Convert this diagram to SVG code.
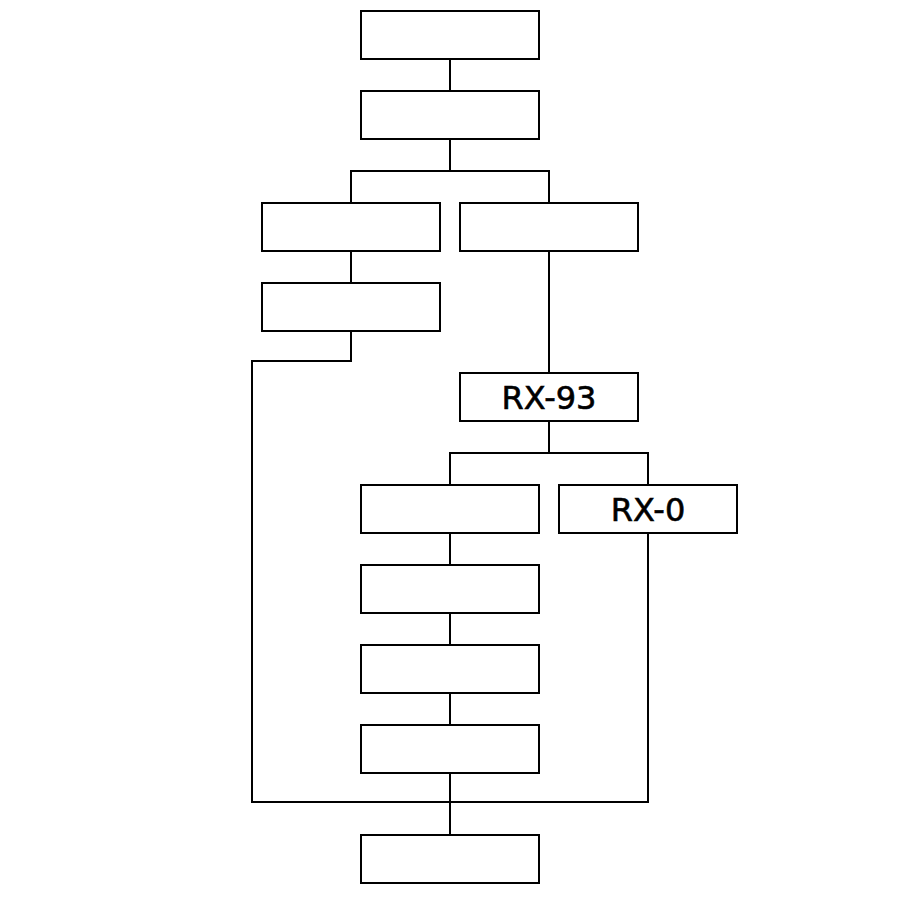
<svg xmlns="http://www.w3.org/2000/svg" width="900" height="900" viewBox="0 0 900 900">
<style>
.box{fill:#fff;stroke:#000;stroke-width:2}
.ln{fill:none;stroke:#000;stroke-width:2}
.t{font-family:"DejaVu Sans","Liberation Sans",sans-serif;font-size:32px;text-anchor:middle;fill:#000;stroke:#000;stroke-width:0.6}
</style>
<rect width="900" height="900" fill="#fff"/>
<g id="connectors">
<path class="ln" d="M450 59V91"/>
<path class="ln" d="M450 139V171M351 203V171H549V203"/>
<path class="ln" d="M351 251V283"/>
<path class="ln" d="M351 331V361H252V802H648V533"/>
<path class="ln" d="M549 251V373"/>
<path class="ln" d="M549 421V453M450 485V453H648V485"/>
<path class="ln" d="M450 533V565M450 613V645M450 693V725M450 773V835"/>
</g>
<g id="n1"><rect class="box" x="361" y="11" width="178" height="48"/></g>
<g id="n2"><rect class="box" x="361" y="91" width="178" height="48"/></g>
<g id="n3"><rect class="box" x="262" y="203" width="178" height="48"/></g>
<g id="n4"><rect class="box" x="460" y="203" width="178" height="48"/></g>
<g id="n5"><rect class="box" x="262" y="283" width="178" height="48"/></g>
<g id="n6"><rect class="box" x="460" y="373" width="178" height="48"/><text class="t" x="549" y="409">RX-93</text></g>
<g id="n7"><rect class="box" x="361" y="485" width="178" height="48"/></g>
<g id="n8"><rect class="box" x="559" y="485" width="178" height="48"/><text class="t" x="648" y="521">RX-0</text></g>
<g id="n9"><rect class="box" x="361" y="565" width="178" height="48"/></g>
<g id="n10"><rect class="box" x="361" y="645" width="178" height="48"/></g>
<g id="n11"><rect class="box" x="361" y="725" width="178" height="48"/></g>
<g id="n12"><rect class="box" x="361" y="835" width="178" height="48"/></g>
</svg>
